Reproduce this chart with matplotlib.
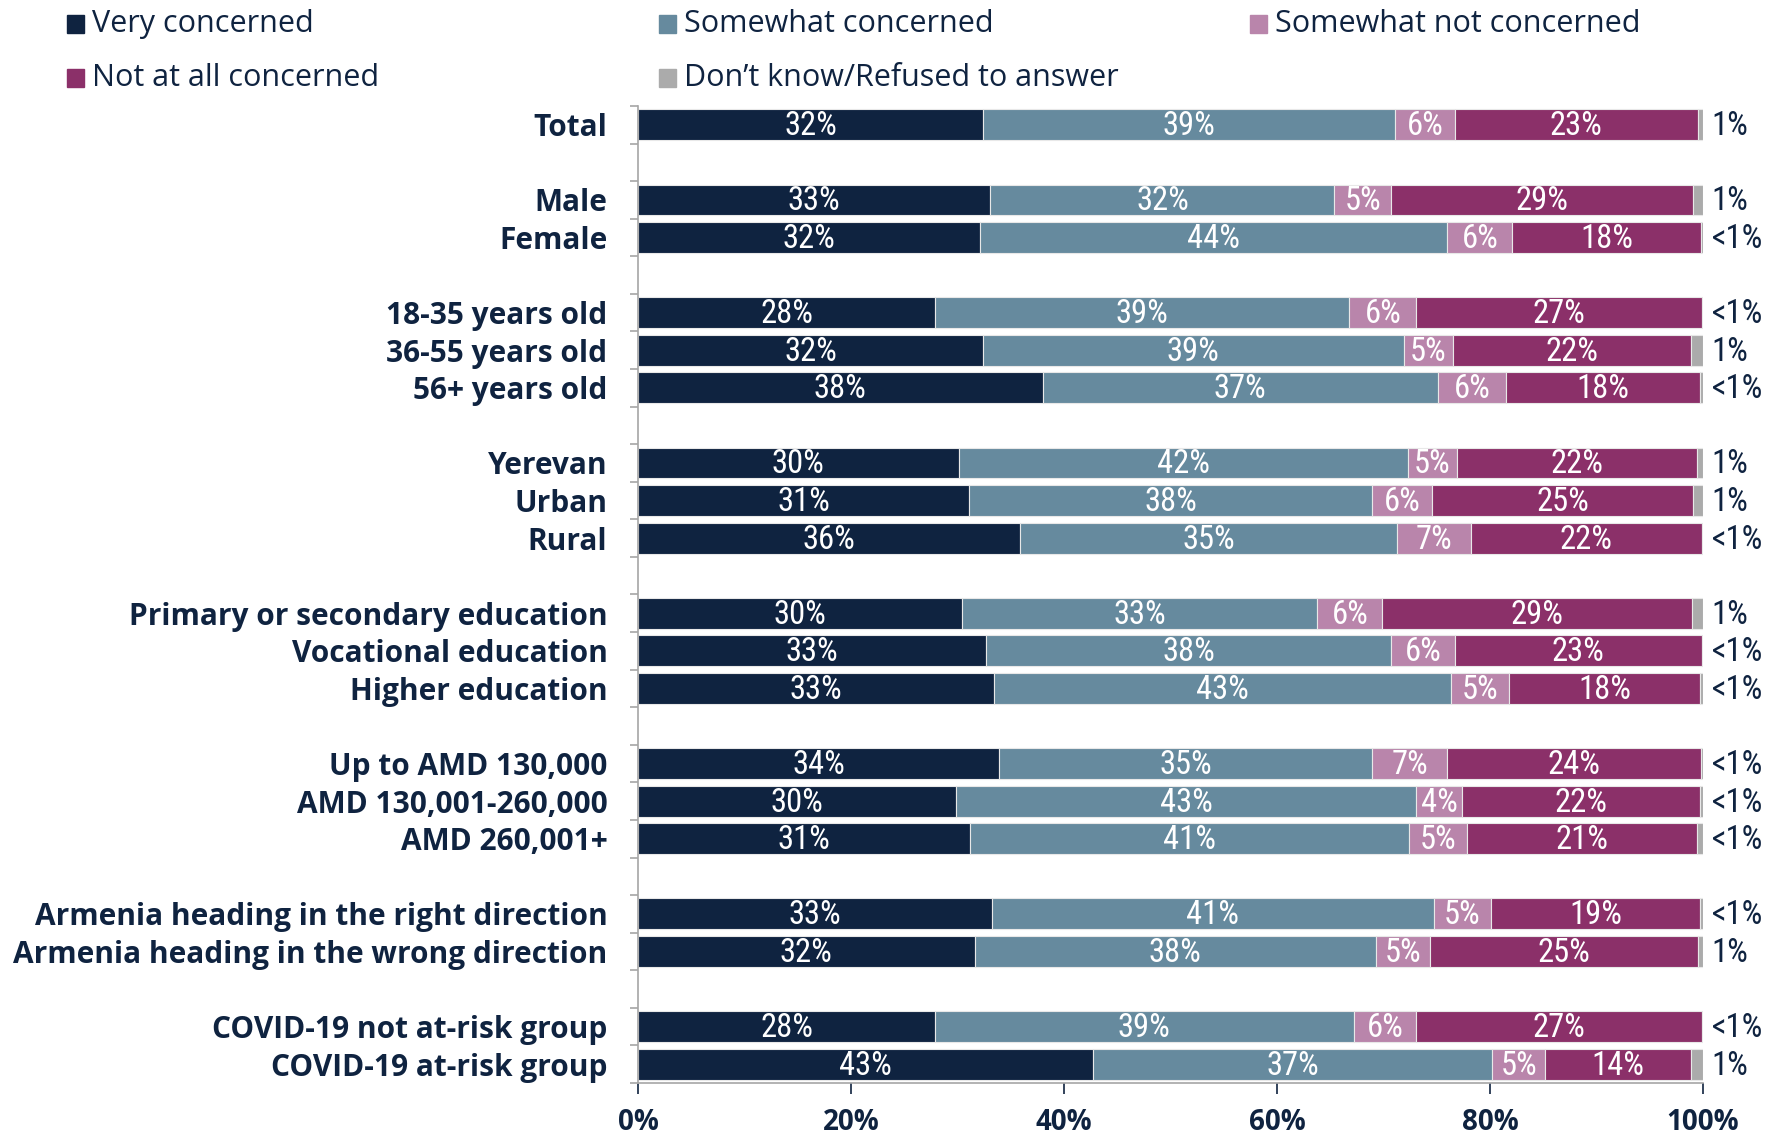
import numpy as np
import matplotlib.pyplot as plt
from matplotlib import font_manager
from matplotlib.patches import Rectangle

categories = ['Total', 'Male', 'Female', '18-35 years old', '36-55 years old', '56+ years old',
              'Yerevan', 'Urban', 'Rural', 'Primary or secondary education', 'Vocational education',
              'Higher education', 'Up to AMD 130,000', 'AMD 130,001-260,000', 'AMD 260,001+',
              'Armenia heading in the right direction', 'Armenia heading in the wrong direction',
              'COVID-19 not at-risk group', 'COVID-19 at-risk group']
# slot of each row (blank slots separate the groups)
slots = [0, 2, 3, 5, 6, 7, 9, 10, 11, 13, 14, 15, 17, 18, 19, 21, 22, 24, 25]

series = ['Very concerned', 'Somewhat concerned', 'Somewhat not concerned',
          'Not at all concerned', "Don\u2019t know/Refused to answer"]

very = [32.4, 33.1, 32.1, 27.9, 32.4, 38.0, 30.1, 31.1, 35.9, 30.4, 32.7, 33.4, 33.9, 29.9, 31.2, 33.2, 31.6, 27.9, 42.7]
somewhat = [38.7, 32.3, 43.9, 38.9, 39.5, 37.1, 42.2, 37.8, 35.4, 33.4, 38.0, 42.9, 35.0, 43.2, 41.2, 41.5, 37.7, 39.3, 37.5]
somewhat_not = [5.6, 5.3, 6.1, 6.3, 4.6, 6.4, 4.6, 5.7, 6.9, 6.1, 6.0, 5.5, 7.1, 4.3, 5.4, 5.4, 5.1, 5.9, 5.0]
not_at_all = [22.8, 28.4, 17.7, 26.8, 22.4, 18.2, 22.5, 24.5, 21.7, 29.1, 23.2, 17.9, 23.8, 22.3, 21.6, 19.6, 25.1, 26.8, 13.7]
dont_know = [0.5, 0.9, 0.2, 0.1, 1.1, 0.3, 0.6, 0.9, 0.1, 1.0, 0.1, 0.3, 0.2, 0.3, 0.6, 0.3, 0.5, 0.1, 1.1]

very_lbl = ['32%', '33%', '32%', '28%', '32%', '38%', '30%', '31%', '36%', '30%', '33%', '33%', '34%', '30%', '31%', '33%', '32%', '28%', '43%']
somewhat_lbl = ['39%', '32%', '44%', '39%', '39%', '37%', '42%', '38%', '35%', '33%', '38%', '43%', '35%', '43%', '41%', '41%', '38%', '39%', '37%']
somewhat_not_lbl = ['6%', '5%', '6%', '6%', '5%', '6%', '5%', '6%', '7%', '6%', '6%', '5%', '7%', '4%', '5%', '5%', '5%', '6%', '5%']
not_at_all_lbl = ['23%', '29%', '18%', '27%', '22%', '18%', '22%', '25%', '22%', '29%', '23%', '18%', '24%', '22%', '21%', '19%', '25%', '27%', '14%']
dont_know_lbl = ['1%', '1%', '<1%', '<1%', '1%', '<1%', '1%', '1%', '<1%', '1%', '<1%', '<1%', '<1%', '<1%', '<1%', '<1%', '1%', '<1%', '1%']

colors = ['#0F2340', '#668A9E', '#B985AB', '#8B3069', '#ABABAB']
navy = '#0F2340'


def pick_font(names):
    avail = {f.name for f in font_manager.fontManager.ttflist}
    for n in names:
        if n in avail:
            return n
    return 'DejaVu Sans'


main_font = pick_font(['Open Sans', 'Lato', 'DejaVu Sans'])
narrow_font = pick_font(['Liberation Sans Narrow', 'DejaVu Sans Condensed', 'Roboto Condensed', 'Roboto', 'Lato'])
plt.rcParams['font.family'] = main_font

fig = plt.figure(figsize=(17.81, 11.37), dpi=100)
ax = fig.add_axes([0.3582, 0.0475, 0.598, 0.8593])

values = [very, somewhat, somewhat_not, not_at_all, dont_know]
labels = [very_lbl, somewhat_lbl, somewhat_not_lbl, not_at_all_lbl]
y = np.array(slots)
left = np.zeros(len(categories))
for i, (vals, col) in enumerate(zip(values, colors)):
    vals = np.array(vals)
    ax.barh(y, vals, left=left, height=0.82, color=col, edgecolor='#E8E8E8', linewidth=0.8)
    if i < 4:
        for yy, l, v, t in zip(y, left, vals, labels[i]):
            ax.text(l + v / 2, yy + 0.04, t, ha='center', va='center', color='white',
                    fontsize=23.5, family=narrow_font)
    left = left + vals

for yy, t in zip(y, dont_know_lbl):
    ax.text(100.8, yy + 0.04, t, ha='left', va='center', color=navy, fontsize=23.5, family=narrow_font)

ax.set_xlim(0, 100)
ax.set_ylim(25.5, -0.5)
ax.set_xticks(np.arange(0, 101, 20))
ax.set_xticklabels([f'{v}%' for v in range(0, 101, 20)], fontsize=20, fontweight='bold', color=navy)
ax.tick_params(axis='x', length=8, width=1.2, color=navy, pad=10)
ax.set_yticks(y)
ax.set_yticklabels(categories, fontsize=21.5, fontweight='bold', color=navy)
ax.tick_params(axis='y', length=0, pad=22)
ax.set_yticks(np.arange(-0.5, 26, 1), minor=True)
ax.tick_params(axis='y', which='minor', length=6, width=1.2, color='#A6A6A6')
for s in ['top', 'right']:
    ax.spines[s].set_visible(False)
ax.spines['left'].set_color('#A6A6A6')
ax.spines['left'].set_linewidth(1.2)
ax.spines['bottom'].set_color('#A6A6A6')
ax.spines['bottom'].set_linewidth(1.2)

# legend laid out in three columns, two rows
leg_x = [67, 659, 1250]
leg_y = [24, 78]
W, H = 1781, 1137
for k, (name, col) in enumerate(zip(series, colors)):
    r, c = divmod(k, 3)
    x0 = leg_x[c]
    yc = leg_y[r]
    fig.patches.append(Rectangle((x0 / W, 1 - (yc + 9) / H), 17 / W, 18 / H,
                                 transform=fig.transFigure, color=col))
    fig.text((x0 + 25) / W, 1 - yc / H, name, ha='left', va='center', fontsize=22, color=navy)

fig.savefig('out.png', dpi=100)
